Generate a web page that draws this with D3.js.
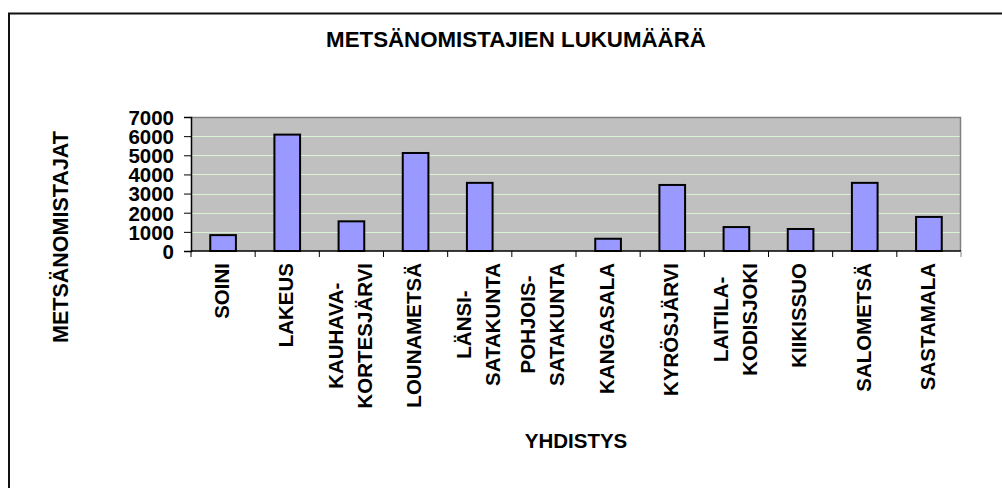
<!DOCTYPE html>
<html>
<head>
<meta charset="utf-8">
<script src="https://cdn.jsdelivr.net/npm/d3@7"></script>
<style>
  body { margin: 0; background: #fff; }
  text { font-family: "Liberation Sans", Arial, sans-serif; font-weight: bold; fill: #000; }
</style>
</head>
<body>
<script>
// data
var categories = ["SOINI", "LAKEUS", "KAUHAVA-KORTESJÄRVI", "LOUNAMETSÄ", "LÄNSI-SATAKUNTA",
    "POHJOIS-SATAKUNTA", "KANGASALA", "KYRÖSJÄRVI", "LAITILA-KODISJOKI", "KIIKISSUO",
    "SALOMETSÄ", "SASTAMALA"];
var owners = [830, 6080, 1550, 5120, 3560, 0, 640, 3450, 1250, 1150, 3560, 1780];
var yTicks = [0, 1000, 2000, 3000, 4000, 5000, 6000, 7000];

var chartTitle = "METSÄNOMISTAJIEN LUKUMÄÄRÄ";
var yTitle = "METSÄNOMISTAJAT";
var xTitle = "YHDISTYS";

var W = 1002, H = 488;
var margin = {top: 117, right: 41, bottom: 237, left: 191};
var width = W - margin.left - margin.right,
    height = H - margin.top - margin.bottom;

var svg = d3.select("body").append("svg")
    .attr("width", W)
    .attr("height", H);

// outer chart border (runs off the picture on the right and bottom)
svg.append("rect")
    .attr("x", 9).attr("y", 13.5)
    .attr("width", 1013).attr("height", 520)
    .attr("fill", "none")
    .attr("stroke", "#111")
    .attr("stroke-width", 2);

svg.append("text")
    .attr("x", 516).attr("y", 46.5)
    .attr("text-anchor", "middle")
    .style("font-size", "22.3px")
    .text(chartTitle);

var g = svg.append("g")
    .attr("transform", "translate(" + margin.left + "," + margin.top + ")");

var x = d3.scaleBand()
    .domain(categories)
    .range([0, width])
    .paddingInner(0.6)
    .paddingOuter(0.3);

// category boundaries for the tick marks
var xEdge = d3.scaleLinear().domain([0, categories.length]).range([0, width]);

var y = d3.scaleLinear()
    .domain([0, 7000])
    .range([height, 0]);

// plot area
g.append("rect")
    .attr("width", width).attr("height", height)
    .attr("fill", "#c0c0c0");

g.selectAll(".grid")
    .data(yTicks.slice(1, -1))
    .enter().append("line")
    .attr("x1", 0).attr("x2", width)
    .attr("y1", function(d) { return Math.round(y(d)) + 0.5; })
    .attr("y2", function(d) { return Math.round(y(d)) + 0.5; })
    .attr("stroke", "#dcf2d4")
    .attr("stroke-width", 1);

// grey plot border top and right
g.append("path")
    .attr("d", "M0,0.5H" + (width - 0.5) + "V" + height)
    .attr("fill", "none")
    .attr("stroke", "#808080")
    .attr("stroke-width", 1.5);

g.selectAll(".bar")
    .data(owners)
    .enter().append("rect")
    .attr("class", "bar")
    .attr("x", function(d, i) { return x(categories[i]); })
    .attr("width", x.bandwidth())
    .attr("y", function(d) { return y(d); })
    .attr("height", function(d) { return height - y(d); })
    .attr("fill", "#9999ff")
    .attr("stroke", "#000")
    .attr("stroke-width", 2)
    .style("display", function(d) { return d > 0 ? null : "none"; });

// y axis
var yAxis = d3.axisLeft(y)
    .tickValues(yTicks)
    .tickSize(7)
    .tickPadding(10)
    .tickFormat(d3.format("d"));

var ya = g.append("g").call(yAxis);
ya.selectAll("text").style("font-size", "20.5px").attr("dy", "0.36em");
ya.selectAll("line").attr("stroke", "#000");
ya.select(".domain").attr("stroke", "#000").attr("stroke-width", 1.5);

// x axis: line and ticks between categories
var xa = g.append("g").attr("transform", "translate(0," + height + ")");
xa.append("line")
    .attr("x1", 0).attr("x2", width)
    .attr("stroke", "#000").attr("stroke-width", 1.5);
xa.selectAll(".tk")
    .data(d3.range(categories.length + 1))
    .enter().append("line")
    .attr("x1", function(d) { return xEdge(d); })
    .attr("x2", function(d) { return xEdge(d); })
    .attr("y1", 0).attr("y2", 6)
    .attr("stroke", function(d) { return d === categories.length ? "#808080" : "#000"; });

// rotated category labels, split after hyphen
var fs = 20.5, lineGap = 29;
categories.forEach(function(c) {
    var lines = c.split(/(?<=-)/);
    var lab = svg.append("g")
        .attr("transform", "translate(" + (margin.left + x(c) + x.bandwidth() / 2 - 1.5) + "," +
            (margin.top + height + 12) + ") rotate(-90)");
    var texts = lab.selectAll("text")
        .data(lines)
        .enter().append("text")
        .style("font-size", fs + "px")
        .attr("text-anchor", "middle")
        .text(function(d) { return d; });
    var maxLen = d3.max(texts.nodes(), function(n) { return n.getComputedTextLength(); });
    texts.attr("x", -maxLen / 2)
        .attr("y", function(d, i) { return (i - (lines.length - 1) / 2) * lineGap + 0.36 * fs; });
});

svg.append("text")
    .attr("x", margin.left + width / 2).attr("y", 448)
    .attr("text-anchor", "middle")
    .style("font-size", "20.5px")
    .text(xTitle);

svg.append("text")
    .attr("transform", "translate(68,237) rotate(-90)")
    .attr("text-anchor", "middle")
    .style("font-size", "21.5px")
    .text(yTitle);
</script>
</body>
</html>
